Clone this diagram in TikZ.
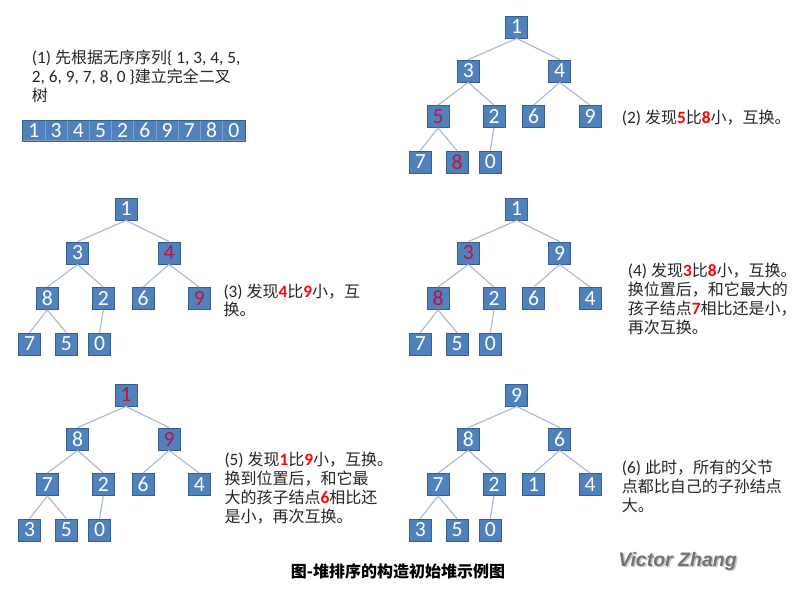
\documentclass[tikz,border=0pt]{standalone}
\usepackage{fontspec}
\setmainfont{Carlito}[Scale=1.08]
\newfontfamily\cjk{Noto Sans CJK SC}
\newfontfamily\wmfont{Liberation Sans}
\definecolor{boxfill}{HTML}{4F81BD}
\definecolor{boxline}{HTML}{385D8A}
\definecolor{celline}{HTML}{7F9FCC}
\definecolor{edgec}{HTML}{A5B8D6}
\definecolor{hotc}{HTML}{C0143C}
\definecolor{txtc}{HTML}{262626}
\tikzset{
  hbox/.style={draw=boxline, fill=boxfill, line width=0.9pt, minimum width=22pt,
    minimum height=22pt, inner sep=0pt, text=white, font=\fontsize{20}{20}\selectfont},
  nb/.style={},
  rb/.style={text=hotc},
  edge/.style={draw=edgec, line width=1.1pt},
  desc/.style={anchor=base west, inner sep=0pt, font=\fontsize{16}{19}\selectfont, text=txtc},
  acell/.style={draw=celline, fill=boxfill, line width=0.7pt, minimum width=22.23pt,
    minimum height=20pt, inner sep=0pt, text=white, font=\fontsize{20}{20}\selectfont},
  wm/.style={font=\wmfont\bfseries\itshape\fontsize{19.5}{20}\selectfont, inner sep=0pt, anchor=base}
}
\newcommand\rd[1]{{\bfseries\color{red}#1}}
\newcommand\buildtree[4]{%
  \begin{scope}[shift={(#2,#3)}]
    \coordinate (#1p1) at (0,0);
    \coordinate (#1p2) at (-48.4,44);
    \coordinate (#1p3) at (43,44);
    \coordinate (#1p4) at (-78.7,89.5);
    \coordinate (#1p5) at (-22.7,89.5);
    \coordinate (#1p6) at (17,89.5);
    \coordinate (#1p7) at (73.3,89.5);
    \coordinate (#1p8) at (-96.4,135);
    \coordinate (#1p9) at (-59.7,135);
    \coordinate (#1p10) at (-26.4,135);
  \end{scope}
  \foreach \i/\l/\s in {#4} { \node[hbox,\s] (#1\i) at (#1p\i) {\l}; }
  \foreach \p/\c in {1/2,1/3,2/4,2/5,3/6,3/7,4/8,4/9,5/10}
    { \draw[edge] (#1\p.south) -- (#1\c.north); }
}
\begin{document}
\begin{tikzpicture}[x=1pt,y=-1pt]
\path[use as bounding box, fill=white] (0,0) rectangle (801,594);

% panel 1
\node[desc] (t1a) at (31.7,64) {(1) {\cjk 先根据无序序列}\{ 1, 3, 4, 5,};
\node[desc] (t1b) at (31.7,82.7) {2, 6, 9, 7, 8, 0 \}{\cjk 建立完全二叉}};
\node[desc] (t1c) at (31.7,101.3) {{\cjk 树}};
\foreach \v [count=\k from 0] in {1,3,4,5,2,6,9,7,8,0}
  { \node[acell] (c\k) at ({33.8+22.23*\k},130.7) {\v}; }
\draw[boxline, line width=0.8pt] (c0.north west) rectangle (c9.south east);

% trees
\buildtree{a}{516.7}{27}{1/1/nb,2/3/nb,3/4/nb,4/5/rb,5/2/nb,6/6/nb,7/9/nb,8/7/nb,9/8/rb,10/0/nb}
\buildtree{b}{126}{209}{1/1/nb,2/3/nb,3/4/rb,4/8/nb,5/2/nb,6/6/nb,7/9/rb,8/7/nb,9/5/nb,10/0/nb}
\buildtree{c}{516.7}{209}{1/1/nb,2/3/rb,3/9/nb,4/8/rb,5/2/nb,6/6/nb,7/4/nb,8/7/nb,9/5/nb,10/0/nb}
\buildtree{d}{126}{395}{1/1/rb,2/8/nb,3/9/rb,4/7/nb,5/2/nb,6/6/nb,7/4/nb,8/3/nb,9/5/nb,10/0/nb}
\buildtree{e}{516.7}{395}{1/9/nb,2/8/nb,3/6/nb,4/7/nb,5/2/nb,6/1/nb,7/4/nb,8/3/nb,9/5/nb,10/0/nb}

% descriptions
\node[desc] (t2a) at (621.7,123.3) {(2) {\cjk 发现}\rd{5}{\cjk 比}\rd{8}{\cjk 小，互换。}};

\node[desc] (t3a) at (223.3,297.8) {(3) {\cjk 发现}\rd{4}{\cjk 比}\rd{9}{\cjk 小，互}};
\node[desc] (t3b) at (223.3,315.8) {{\cjk 换。}};

\node[desc] (t4a) at (627.7,276.2) {(4) {\cjk 发现}\rd{3}{\cjk 比}\rd{8}{\cjk 小，互换。}};
\node[desc] (t4b) at (627.7,295.2) {{\cjk 换位置后，和它最大的}};
\node[desc] (t4c) at (627.7,314.2) {{\cjk 孩子结点}\rd{7}{\cjk 相比还是小，}};
\node[desc] (t4d) at (627.7,333) {{\cjk 再次互换。}};

\node[desc] (t5a) at (224.3,465.4) {(5) {\cjk 发现}\rd{1}{\cjk 比}\rd{9}{\cjk 小，互换。}};
\node[desc] (t5b) at (224.3,484.4) {{\cjk 换到位置后，和它最}};
\node[desc] (t5c) at (224.3,503.4) {{\cjk 大的孩子结点}\rd{6}{\cjk 相比还}};
\node[desc] (t5d) at (224.3,522.2) {{\cjk 是小，再次互换。}};

\node[desc] (t6a) at (621.7,473.4) {(6) {\cjk 此时，所有的父节}};
\node[desc] (t6b) at (621.7,492.2) {{\cjk 点都比自己的子孙结点}};
\node[desc] (t6c) at (621.7,511) {{\cjk 大。}};

% caption
\node[anchor=base, inner sep=0pt, font={\cjk\bfseries\fontsize{16}{16}\selectfont}, text=black] (cap) at (398,577.7) {图-堆排序的构造初始堆示例图};

% watermark
\node[wm, text=black!22] (wms) at (679,567.5) {Victor Zhang};
\node[wm, text=black!55] (wmt) at (677.5,566) {Victor Zhang};
\end{tikzpicture}
\end{document}
